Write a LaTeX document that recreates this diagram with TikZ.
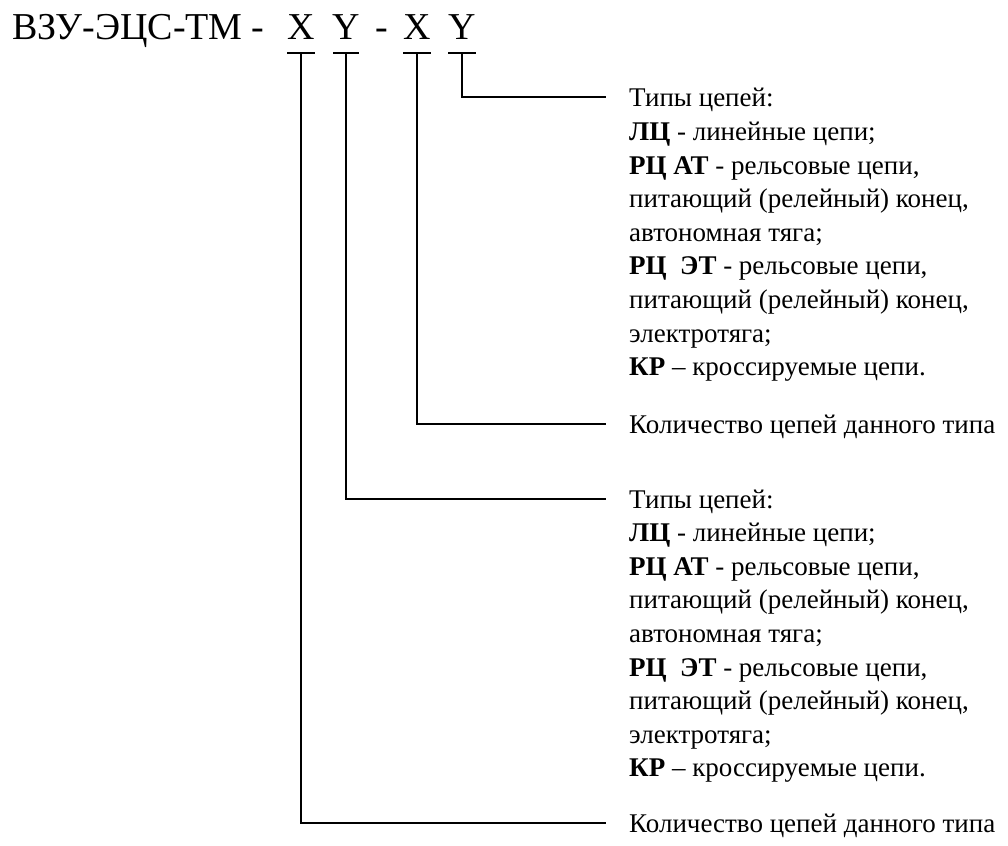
\documentclass[tikz,border=0pt]{standalone}
\usepackage{fontspec}
\setmainfont{LiberationSerif}[Extension=.ttf,UprightFont=*-Regular,BoldFont=*-Bold,ItalicFont=*-Italic,BoldItalicFont=*-BoldItalic]
\usepackage{tikz}

\newcommand{\tiplist}{\begin{tabular}[t]{@{}l@{}}
Типы цепей:\\
\textbf{ЛЦ} - линейные цепи;\\
\textbf{РЦ АТ} - рельсовые цепи,\\
питающий (релейный) конец,\\
автономная тяга;\\
\textbf{РЦ\ \ ЭТ} - рельсовые цепи,\\
питающий (релейный) конец,\\
электротяга;\\
\textbf{КР} -- кроссируемые цепи.
\end{tabular}}

\begin{document}
\begin{tikzpicture}[x=1pt,y=-1pt,
  codetext/.style={anchor=base,inner sep=0pt,font=\fontsize{38}{46}\selectfont},
  legend/.style={anchor=base west,inner sep=0pt,font=\fontsize{27}{33.6}\selectfont},
  lead/.style={line width=1.5pt}]
\useasboundingbox (0,0) rectangle (1008,845);

% designation
\node[codetext,anchor=base west] (code) at (12,40) {ВЗУ-ЭЦС-ТМ -};
\node[codetext] (x1) at (301,40) {X};
\node[codetext] (y1) at (346,40) {Y};
\node[codetext] (dash) at (382,40) {-};
\node[codetext] (x2) at (417,40) {X};
\node[codetext] (y2) at (462,40) {Y};

% bars under the letters
\coordinate (x1bar) at ([shift={(0,13)}]x1.base);
\coordinate (y1bar) at ([shift={(0,13)}]y1.base);
\coordinate (x2bar) at ([shift={(0,13)}]x2.base);
\coordinate (y2bar) at ([shift={(0,13)}]y2.base);
\draw[lead] ([xshift=-14pt]x1bar) -- ([xshift=14pt]x1bar);
\draw[lead] ([xshift=-13pt]y1bar) -- ([xshift=13pt]y1bar);
\draw[lead] ([xshift=-14pt]x2bar) -- ([xshift=14pt]x2bar);
\draw[lead] ([xshift=-14pt]y2bar) -- ([xshift=14pt]y2bar);

% legend
\node[legend] (types2) at (629,107) {\tiplist};
\node[legend] (count2) at (629,433) {Количество цепей данного типа};
\node[legend] (types1) at (629,508) {\tiplist};
\node[legend] (count1) at (629,832) {Количество цепей данного типа};

% leaders
\draw[lead] (y2bar) |- ([shift={(-23,-10)}]types2.base west);
\draw[lead] (x2bar) |- ([shift={(-23,-9)}]count2.base west);
\draw[lead] (y1bar) |- ([shift={(-23,-9)}]types1.base west);
\draw[lead] (x1bar) |- ([shift={(-23,-9)}]count1.base west);
\end{tikzpicture}
\end{document}
